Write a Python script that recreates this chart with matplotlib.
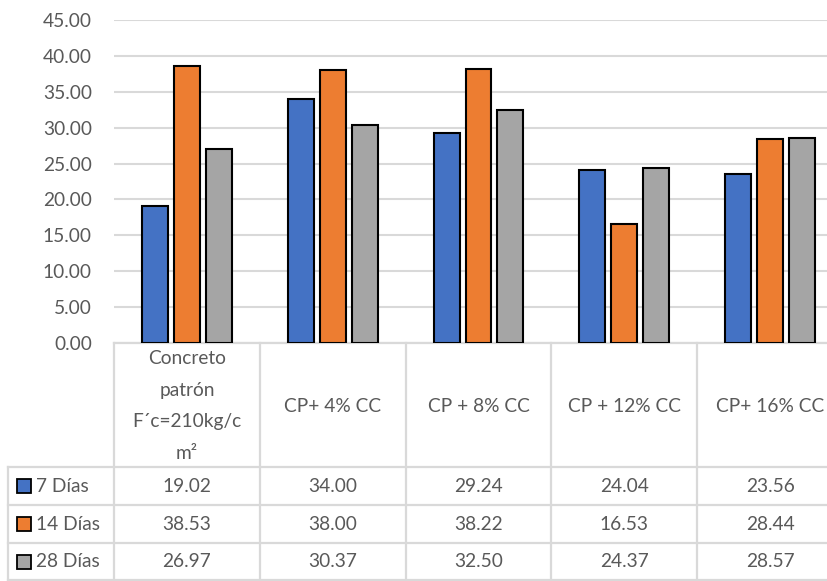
import numpy as np
import matplotlib
matplotlib.use("Agg")
import matplotlib.pyplot as plt
from matplotlib.transforms import blended_transform_factory

plt.rcParams['font.family'] = ['Lato', 'DejaVu Sans']

categories = ["Concreto\npatrón\nF´c=210kg/c\nm²", "CP+ 4% CC", "CP + 8% CC",
              "CP + 12% CC", "CP+ 16% CC"]
series_names = ["7 Días", "14 Días", "28 Días"]
dias7 = [19.02, 34.00, 29.24, 24.04, 23.56]
dias14 = [38.53, 38.00, 38.22, 16.53, 28.44]
dias28 = [26.97, 30.37, 32.50, 24.37, 28.57]
series = [dias7, dias14, dias28]
colors = ["#4472C4", "#ED7D31", "#A5A5A5"]
yticks = np.arange(0, 50, 5)

W, H = 827, 581
txt = "#595959"
grid = "#D9D9D9"
fs = 13.8

fig = plt.figure(figsize=(W / 100, H / 100), dpi=100)
# plot area runs past the right edge like the original (clipped chart)
ax = fig.add_axes([114 / W, 1 - 343 / H, (843 - 114) / W, (343 - 20) / H])

x = np.arange(len(categories))
bw = 0.178
step = 0.219
for i, (vals, c) in enumerate(zip(series, colors)):
    ax.bar(x + (i - 1) * step, vals, width=bw, color=c, edgecolor="black",
           linewidth=1.5, zorder=3)

ax.set_xlim(-0.5, len(categories) - 0.5)
ax.set_ylim(0, 45)
ax.set_yticks(yticks)
ax.set_yticklabels([f"{v:.2f}" for v in yticks], color=txt, fontsize=fs)
ax.tick_params(axis="y", length=0, pad=16)
ax.tick_params(axis="x", length=0, labelbottom=False)
ax.yaxis.grid(True, color=grid, linewidth=1.5, zorder=0)
for s in ["top", "right", "left", "bottom"]:
    ax.spines[s].set_visible(False)

# data table below the plot
fy = lambda py: 1 - py / H
fx = lambda px: px / W
tr = blended_transform_factory(ax.transData, fig.transFigure)
rows_y = [343, 467, 505, 543, 580]

line_kw = dict(color=grid, linewidth=1.6, clip_on=False, zorder=1)
ax.plot([-0.5, len(categories) - 0.5], [fy(343)] * 2, transform=tr, **line_kw)
for py in rows_y[1:]:
    ax.plot([fx(8), fx(843)], [fy(py)] * 2, transform=fig.transFigure, **line_kw)
ax.plot([fx(8), fx(8)], [fy(467), fy(580)], transform=fig.transFigure, **line_kw)
for b in np.arange(len(categories)) - 0.5:
    ax.plot([b, b], [fy(343), fy(580)], transform=tr, **line_kw)

for i, cat in enumerate(categories):
    ax.text(i, fy(406), cat, transform=tr, ha="center", va="center",
            fontsize=fs, color=txt, linespacing=2.05)

for r, (name, vals, c) in enumerate(zip(series_names, series, colors)):
    yc = fy((rows_y[r + 1] + rows_y[r + 2]) / 2)
    ax.plot([fx(24)], [yc], marker="s", markersize=10.5, color=c,
            markeredgecolor="black", markeredgewidth=1.3,
            transform=fig.transFigure, clip_on=False)
    fig.text(fx(36), yc, name, ha="left", va="center", fontsize=fs, color=txt)
    for i, v in enumerate(vals):
        ax.text(i, yc, f"{v:.2f}", transform=tr, ha="center", va="center",
                fontsize=fs, color=txt)

fig.savefig("out.png", dpi=100)
